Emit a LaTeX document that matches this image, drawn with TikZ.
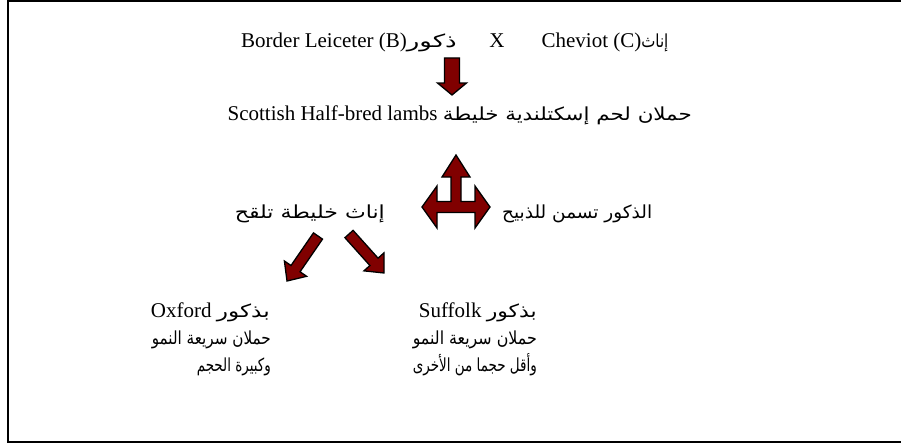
\documentclass[tikz,border=0pt]{standalone}
\usepackage{graphicx}
\usepackage{fontspec}
\setmainfont{Liberation Serif}
\newfontfamily\arabicfont[Script=Arabic]{DejaVu Sans}
\TeXXeTstate=1
\usetikzlibrary{calc}
% Arabic text set to a given width (horizontal fit only)
\newcommand\arw[2]{\resizebox{#1pt}{\height}{\arabicfont\fontsize{18}{21}\selectfont #2}}
\definecolor{arrowred}{RGB}{128,0,0}
% block arrow from tail #1 to tip #2; #3 shaft half width, #4 head half width, #5 head length
\newcommand\blockarrow[5]{%
  \path ($(#2)!#5pt!(#1)$) coordinate (hbase);
  \draw[blockarr] ($(#1)!#3pt!90:(#2)$) -- ($(hbase)!#3pt!90:(#2)$)
    -- ($(hbase)!#4pt!90:(#2)$) -- (#2) -- ($(hbase)!#4pt!-90:(#2)$)
    -- ($(hbase)!#3pt!-90:(#2)$) -- ($(#1)!#3pt!-90:(#2)$) -- cycle;}
\begin{document}
\begin{tikzpicture}[x=1pt,y=-1pt,
  txt/.style={inner sep=0pt, font=\fontsize{21}{25}\selectfont},
  blockarr/.style={draw=black, line width=1.3pt, fill=arrowred, line join=miter},
  frame/.style={draw=black, line width=2pt}]
\useasboundingbox (0,0) rectangle (901,444);
\draw[frame] (8,1) rectangle (912,442);

% texts
\node[txt, anchor=base east] (bl) at (457,48) {Border Leiceter (B)\arw{50}{\beginR ذكور\endR}};
\node[txt, anchor=base] (cx) at (497,48) {X};
\node[txt, anchor=base] (ch) at (605,48) {Cheviot (C)\arw{27}{\beginR إناث\endR}};
\node[txt, anchor=base east] (lambs) at (692,120) {Scottish Half-bred lambs \arw{249}{\beginR حملان لحم إسكتلندية خليطة\endR}};
\node[txt, anchor=base east] (fem) at (385,218) {\arw{150}{\beginR إناث خليطة تلقح\endR}};
\node[txt, anchor=base west] (male) at (502,218) {\arw{150}{\beginR الذكور تسمن للذبيح\endR}};

\node[txt, anchor=base east] (ox1) at (270,317) {Oxford \arw{53}{\beginR بذكور\endR}};
\node[txt, anchor=base east] (ox2) at (271,344) {\arw{119}{\beginR حملان سريعة النمو\endR}};
\node[txt, anchor=base east] (ox3) at (271,371) {\arw{74}{\beginR وكبيرة الحجم\endR}};
\node[txt, anchor=base east] (su1) at (537,317) {Suffolk \arw{50}{\beginR بذكور\endR}};
\node[txt, anchor=base east] (su2) at (537,344) {\arw{124}{\beginR حملان سريعة النمو\endR}};
\node[txt, anchor=base east] (su3) at (537,371) {\arw{124}{\beginR وأقل حجما من الأخرى\endR}};

% arrows
\coordinate (dtail) at (452,58);
\coordinate (dtip) at (452,95);
\blockarrow{dtail}{dtip}{7.5}{14.5}{12}
\coordinate (ltail) at (318,236);
\coordinate (ltip) at (287,281);
\blockarrow{ltail}{ltip}{5.5}{13.5}{15}
\coordinate (rtail) at (349,234);
\coordinate (rtip) at (384,273);
\blockarrow{rtail}{rtip}{5.5}{13.5}{15}

% three-way arrow
\draw[blockarr] (456,155) -- (470,177) -- (461,177) -- (461,201.5) -- (475,201.5)
  -- (475,186) -- (490,207) -- (475,228) -- (475,212.5) -- (437,212.5)
  -- (437,228) -- (422,207) -- (437,186) -- (437,201.5) -- (451,201.5)
  -- (451,177) -- (442,177) -- cycle;
\end{tikzpicture}
\end{document}
